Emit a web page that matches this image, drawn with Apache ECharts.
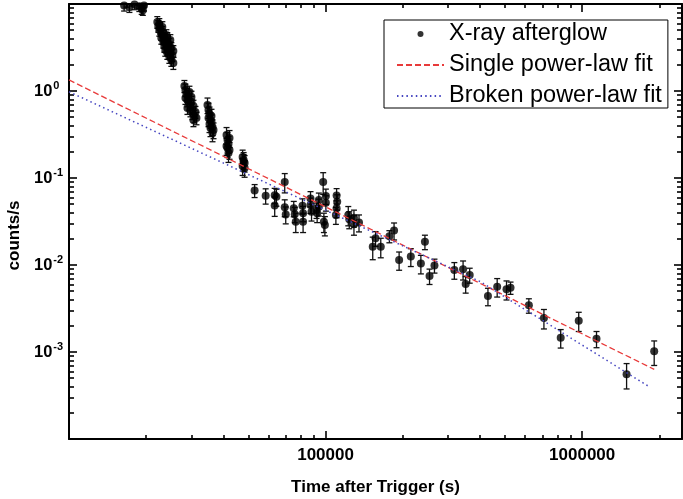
<!DOCTYPE html>
<html><head><meta charset="utf-8">
<script src="https://cdn.jsdelivr.net/npm/echarts@6/dist/echarts.min.js"></script>
<style>html,body{margin:0;padding:0;background:#fff}#c{width:683px;height:499px}</style>
</head><body><div id="c"></div><script>
// ---- data: [time (s), rate (counts/s), 1-sigma error] ----
const flare1 = [[16400,9.6,1.3],[16800,10.6,1.4],[17200,9.2,1.2],[17600,10.9,1.4],[18000,9.9,1.3],[18400,11.2,1.5],[18800,9.4,1.2],[19200,8.8,1.2],[19600,9.6,1.3],[17000,11.8,1.5],[18600,10.3,1.4],[19400,8.5,1.1]];
const flare2 = [[22090,6.21,0.95],[22290,5.59,0.85],[22490,5.89,0.9],[22490,5.02,0.75],[22700,5.30,0.8],[22900,4.52,0.68],[22900,4.07,0.62],[23110,4.77,0.72],[23320,3.66,0.55],[23320,4.29,0.65],[23530,3.29,0.5],[23740,3.86,0.58],[23740,2.96,0.45],[23960,3.47,0.52],[24170,2.73,0.42],[24390,3.12,0.47],[24610,2.46,0.38],[24830,2.81,0.43],[25060,2.27,0.35],[25280,2.59,0.4],[25510,2.10,0.33],[24610,3.47,0.52],[25060,3.12,0.47],[24170,4.07,0.62],[25510,2.88,0.44],[23110,5.44,0.82],[23960,4.40,0.66],[24830,3.86,0.58]];
const flare3 = [[28170,1.14,0.18],[28430,1.03,0.17],[28690,0.924,0.15],[28430,0.831,0.13],[28950,0.788,0.13],[29210,0.876,0.14],[29470,0.709,0.11],[28950,0.638,0.1],[29740,0.605,0.1],[30010,0.747,0.12],[30280,0.559,0.09],[30550,0.673,0.11],[30830,0.516,0.085],[31110,0.574,0.09],[31390,0.489,0.08],[29470,0.974,0.16],[30010,0.853,0.14],[30550,0.464,0.075]];
const flare4 = [[34660,0.690,0.14],[34970,0.605,0.12],[35290,0.544,0.11],[34970,0.489,0.1],[35600,0.464,0.095],[35290,0.418,0.085],[35920,0.440,0.09],[36250,0.386,0.08],[35600,0.376,0.077],[36580,0.356,0.073],[35920,0.516,0.1],[36250,0.329,0.068]];
const flare5 = [[41110,0.312,0.068],[41480,0.273,0.06],[41850,0.246,0.054],[41480,0.221,0.049],[42230,0.210,0.046],[41850,0.194,0.043],[41110,0.233,0.051],[42230,0.288,0.063]];
const flare6 = [[47500,0.174,0.035],[47930,0.161,0.035],[48360,0.149,0.032],[47500,0.137,0.03],[48360,0.130,0.028],[47930,0.153,0.033]];
const latePts = [
 [52900,0.0718,0.0122],[58410,0.0626,0.0125],[63350,0.0633,0.0127],[64330,0.0608,0.0134],[63350,0.0483,0.0121],
 [69310,0.0899,0.0225],[69310,0.0460,0.0101],[69940,0.0381,0.0084],[75160,0.0448,0.0090],[75840,0.0383,0.0077],
 [76520,0.0315,0.0079],[81280,0.0480,0.0096],[81720,0.0393,0.0079],[81720,0.0315,0.0079],[87360,0.0581,0.0116],
 [87360,0.0489,0.0098],[88160,0.0410,0.0090],[92210,0.0429,0.0086],[92710,0.0393,0.0086],[94140,0.0559,0.0112],
 [94140,0.0468,0.0103],[97870,0.0899,0.0252],[98490,0.0315,0.0079],[99380,0.0288,0.0072],[100280,0.0520,0.0104],
 [100280,0.0621,0.0124],[110400,0.0629,0.0126],[111000,0.0534,0.0107],[110400,0.0448,0.0099],[109700,0.0376,0.0083],
 [122600,0.0376,0.0094],[123700,0.0335,0.0074],[129000,0.0350,0.0077],[129000,0.0294,0.0074],[134990,0.0308,0.0068],
 [152700,0.0162,0.0047],[156600,0.0203,0.0039],[164100,0.0162,0.0041],[177300,0.0214,0.0034],[184900,0.0249,0.0055],
 [193500,0.0114,0.0027],[214900,0.0125,0.0029],[235200,0.0104,0.0025],[243900,0.0185,0.0035],[254200,0.00747,0.0015],
 [265700,0.00987,0.0018],[317600,0.00876,0.0019],[343500,0.00892,0.0022],[351600,0.00605,0.0013],[364500,0.00768,0.0015],
 [429400,0.00440,0.0010],[466500,0.00563,0.00135],[507200,0.00526,0.0013],[525800,0.00548,0.00088],[619900,0.00344,0.00065],
 [709600,0.00246,0.00062],[824900,0.00146,0.00035],[969800,0.00229,0.00057],[1137600,0.00142,0.0003],[1490000,0.000556,0.00018],
 [1909000,0.00102,0.00032]
];
const singleFitT = [1e4, 1.91e6];
const singleFitY = [1.34, 6.3e-4];
const brokenFitT = [1e4, 4.01e5, 1.84e6];
const brokenFitY = [0.98, 6.43e-3, 3.93e-4];
const xMajorTicks = [1e4, 1e5, 1e6];
const xLabelValues = [1e5, 1e6];
const yMajorTicks = [1e-4, 1e-3, 1e-2, 1e-1, 1, 10];
const yLabelValues = [1e-3, 1e-2, 1e-1, 1];
const X_MIN = 1e4, X_MAX = 2.45e6, Y_MIN = 1e-4, Y_MAX = 10;

function minorTicks(decades, lo, hi) {
  const out = [];
  decades.forEach(d => { for (let k = 2; k <= 9; k++) { const v = k * d; if (v > lo && v < hi) out.push(v); } });
  return out;
}
const xMinor = minorTicks(xMajorTicks, X_MIN, X_MAX);
const yMinor = minorTicks(yMajorTicks, Y_MIN, Y_MAX);

const FONT = "'Liberation Sans', Arial, sans-serif";
const allPts = [].concat(flare1, flare2, flare3, flare4, flare5, flare6, latePts);

function xAxisDef(pos, ticks, len, showLine, labels) {
  return {
    type: 'log', logBase: 10, min: X_MIN, max: X_MAX, position: pos, gridIndex: 0,
    axisLine: { show: showLine, onZero: false, lineStyle: { color: '#000', width: 2 } },
    axisTick: { show: true, inside: true, length: len, customValues: ticks, lineStyle: { color: '#000', width: 1.6 } },
    axisLabel: labels ? {
      show: true, customValues: xLabelValues, margin: 8,
      formatter: v => String(Math.round(v)),
      fontFamily: FONT, fontSize: 17, fontWeight: 'bold', color: '#000'
    } : { show: false },
    splitLine: { show: false }, minorTick: { show: false }, minorSplitLine: { show: false }
  };
}
function yAxisDef(pos, ticks, len, showLine, labels) {
  return {
    type: 'log', logBase: 10, min: Y_MIN, max: Y_MAX, position: pos, gridIndex: 0,
    axisLine: { show: showLine, onZero: false, lineStyle: { color: '#000', width: 2 } },
    axisTick: { show: true, inside: true, length: len, customValues: ticks, lineStyle: { color: '#000', width: 1.6 } },
    axisLabel: labels ? {
      show: true, customValues: yLabelValues, margin: 35, align: 'left',
      formatter: v => '{b|10}{s|' + Math.round(Math.log10(v)) + '}',
      rich: {
        b: { fontFamily: FONT, fontSize: 16.5, fontWeight: 'bold', color: '#000', lineHeight: 22 },
        s: { fontFamily: FONT, fontSize: 11, fontWeight: 'bold', color: '#000', verticalAlign: 'top', padding: [0, 0, 0, 1] }
      }
    } : { show: false },
    splitLine: { show: false }, minorTick: { show: false }, minorSplitLine: { show: false }
  };
}

const xAxes = [
  xAxisDef('bottom', xMajorTicks, 8, true, true),
  xAxisDef('bottom', xMinor, 4, false, false),
  xAxisDef('top', xMajorTicks, 8, true, false),
  xAxisDef('top', xMinor, 4, false, false)
];
Object.assign(xAxes[0], {
  name: 'Time after Trigger (s)', nameLocation: 'middle', nameGap: 40,
  nameTextStyle: { fontFamily: FONT, fontSize: 17, fontWeight: 'bold', color: '#000' }
});
const yAxes = [
  yAxisDef('left', yMajorTicks, 8, true, true),
  yAxisDef('left', yMinor, 5, false, false),
  yAxisDef('right', yMajorTicks, 8, true, false),
  yAxisDef('right', yMinor, 5, false, false)
];
Object.assign(yAxes[0], {
  name: 'counts/s', nameLocation: 'middle', nameGap: 46,
  nameTextStyle: { fontFamily: FONT, fontSize: 17, fontWeight: 'bold', color: '#000', padding: [0, 28, 0, 0] }
});

const chart = echarts.init(document.getElementById('c'), null, { renderer: 'canvas' });
chart.setOption({
  animation: false,
  backgroundColor: '#fff',
  grid: { left: 69, right: 1, top: 4, bottom: 60, outerBoundsMode: 'none', containLabel: false },
  xAxis: xAxes,
  yAxis: yAxes,
  legend: {
    orient: 'vertical', left: 384, top: 20, padding: [2, 6, 0, 12],
    itemWidth: 47, itemHeight: 6, itemGap: 7,
    backgroundColor: '#fff', borderColor: '#000', borderWidth: 1, borderRadius: 0,
    textStyle: { fontFamily: FONT, fontSize: 23.5, color: '#000' },
    data: [
      { name: 'X-ray afterglow', icon: 'circle' },
      { name: 'Single power-law fit', itemStyle: { opacity: 0 } },
      { name: 'Broken power-law fit', itemStyle: { opacity: 0 } }
    ]
  },
  series: [
    {
      name: 'errbars', type: 'custom', xAxisIndex: 0, yAxisIndex: 0, clip: true, silent: true,
      encode: { x: 0, y: 1 },
      data: allPts,
      renderItem: function (params, api) {
        const t = api.value(0), y = api.value(1), e = api.value(2);
        const lo = Math.max(y - e, Y_MIN * 0.5);
        const p1 = api.coord([t, y + e]);
        const p2 = api.coord([t, lo]);
        const hw = 3;
        const st = { stroke: '#111', lineWidth: 1.3 };
        return { type: 'group', children: [
          { type: 'line', shape: { x1: p1[0], y1: p1[1], x2: p2[0], y2: p2[1] }, style: st },
          { type: 'line', shape: { x1: p1[0] - hw, y1: p1[1], x2: p1[0] + hw, y2: p1[1] }, style: st },
          { type: 'line', shape: { x1: p2[0] - hw, y1: p2[1], x2: p2[0] + hw, y2: p2[1] }, style: st }
        ]};
      }
    },
    {
      name: 'X-ray afterglow', type: 'scatter', xAxisIndex: 0, yAxisIndex: 0, clip: true,
      symbol: 'circle', symbolSize: 8, itemStyle: { color: '#000' },
      data: allPts.map(p => [p[0], p[1]])
    },
    {
      name: 'Single power-law fit', type: 'line', xAxisIndex: 0, yAxisIndex: 0,
      symbol: 'none', showSymbol: false, color: '#e83a3a',
      lineStyle: { color: '#e83a3a', width: 1.3, type: [6, 3] },
      data: singleFitT.map((t, i) => [t, singleFitY[i]])
    },
    {
      name: 'Broken power-law fit', type: 'line', xAxisIndex: 0, yAxisIndex: 0,
      symbol: 'none', showSymbol: false, color: '#4545c0',
      lineStyle: { color: '#4545c0', width: 1.5, type: [1.5, 3.2] },
      data: brokenFitT.map((t, i) => [t, brokenFitY[i]])
    }
  ]
});
</script></body></html>
